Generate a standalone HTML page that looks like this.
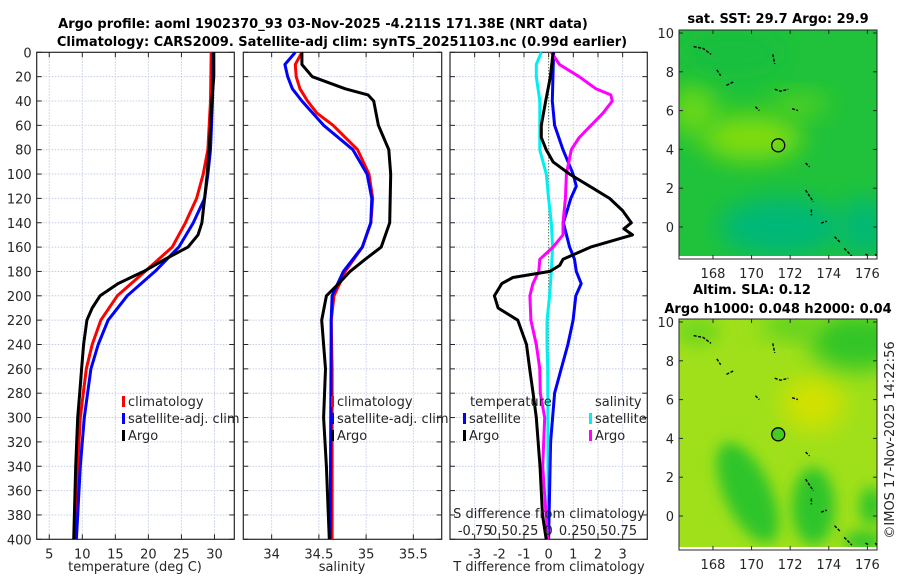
<!DOCTYPE html>
<html><head><meta charset="utf-8"><style>
html,body{margin:0;padding:0;background:#fff;width:900px;height:580px;overflow:hidden}
svg text{font-family:"DejaVu Sans","Liberation Sans",sans-serif;fill:#262626}
</style></head><body>
<svg id="fig" xmlns="http://www.w3.org/2000/svg" width="900" height="580" viewBox="0 0 900 580">
<defs>
<filter id="blur1" x="-50%" y="-50%" width="200%" height="200%"><feGaussianBlur stdDeviation="12"/></filter>
<filter id="blur2" x="-50%" y="-50%" width="200%" height="200%"><feGaussianBlur stdDeviation="7"/></filter>
<clipPath id="clipm1"><rect x="679" y="30" width="198" height="228"/></clipPath>
<clipPath id="clipm2"><rect x="679" y="319" width="198" height="230"/></clipPath>
</defs>
<text x="323" y="28" text-anchor="middle" font-size="13" font-weight="bold" style="fill:#000">Argo profile: aoml 1902370_93 03-Nov-2025 -4.211S 171.38E (NRT data)</text>
<text x="342" y="46" text-anchor="middle" font-size="13" font-weight="bold" style="fill:#000">Climatology: CARS2009. Satellite-adj clim: synTS_20251103.nc (0.99d earlier)</text>
<g id="plots"></g>
<g id="maps"></g>
<text transform="translate(894,440) rotate(-90)" text-anchor="middle" font-size="13">©IMOS 17-Nov-2025 14:22:56</text>
</svg>
<script>
// ---------------- DATA ----------------
const depthTicks = [0,20,40,60,80,100,120,140,160,180,200,220,240,260,280,300,320,340,360,380,400];
const tempTicks = [5,10,15,20,25,30];
const salTicks = [34,34.5,35,35.5];
const tdiffTicks = [-3,-2,-1,0,1,2,3];
const sdiffTicks = [-0.75,-0.5,-0.25,0,0.25,0.5,0.75];
const sdiffTickLabels = ["-0.75","0.5","0.25","0","0.25","0.5","0.75"];

// Temperature profiles
const tArgoDepth = [0,20,40,60,80,100,120,140,150,160,170,180,190,200,210,220,240,260,280,300,340,400];
const tArgoVal   = [29.9,29.9,29.6,29.4,29.2,28.9,28.5,28.1,27.5,26.0,22.5,19.3,15.4,12.7,11.5,10.7,10.2,9.9,9.6,9.3,9.0,8.7];
const tClimDepth = [0,40,80,100,120,140,160,180,200,220,240,260,300,340,400];
const tClimVal   = [29.5,29.4,29.0,28.3,27.3,25.6,23.6,19.5,15.3,12.8,11.5,10.6,9.7,9.3,8.9];
const tSatDepth  = [0,40,80,100,120,140,160,180,200,220,240,260,300,340,400];
const tSatVal    = [29.8,29.7,29.4,29.0,28.5,26.8,24.6,21.0,16.8,13.9,12.4,11.3,10.3,9.7,9.1];

// Salinity profiles
const sArgoDepth = [0,10,20,30,35,40,60,80,100,140,160,170,180,190,200,220,240,260,300,340,400];
const sArgoVal   = [34.32,34.32,34.43,34.78,35.02,35.08,35.13,35.24,35.26,35.25,35.16,34.99,34.83,34.71,34.58,34.53,34.55,34.57,34.55,34.58,34.61];
const sClimDepth = [0,10,20,30,40,50,60,80,100,120,140,160,180,200,220,260,400];
const sClimVal   = [34.32,34.25,34.26,34.30,34.38,34.48,34.65,34.91,35.03,35.07,35.05,34.96,34.78,34.66,34.63,34.64,34.64];
const sSatDepth  = [0,10,20,30,40,60,80,100,120,140,160,180,200,220,400];
const sSatVal    = [34.25,34.14,34.17,34.22,34.32,34.55,34.86,35.01,35.06,35.05,34.96,34.76,34.64,34.63,34.62];

// Differences (T in deg C, S in psu)
const dTArgoDepth = [0,20,40,60,70,80,90,100,110,120,130,140,145,150,160,170,175,180,185,190,200,210,220,240,260,280,300,340,380,400];
const dTArgoVal   = [0.18,0.07,-0.12,-0.3,-0.3,-0.1,0.18,0.85,1.66,2.47,3.0,3.35,3.05,3.4,1.7,0.58,0.45,0.05,-1.45,-1.9,-2.2,-2.05,-1.25,-0.9,-0.77,-0.63,-0.5,-0.35,-0.25,-0.1];
const dTSatDepth  = [0,40,60,80,100,110,120,140,160,170,180,190,200,220,240,260,280,300,320,400];
const dTSatVal    = [0.2,0.15,0.24,0.58,0.99,1.12,0.9,0.6,0.85,1.05,1.12,1.32,1.1,0.99,0.78,0.51,0.24,0.16,0.08,0.0];
const dSSatDepth  = [0,10,20,40,60,80,100,120,140,160,180,200,220,240,260,400];
const dSSatVal    = [-0.075,-0.125,-0.125,-0.09,-0.09,-0.09,-0.024,0.0,0.027,0.04,0.027,0.01,-0.017,-0.017,-0.01,-0.005];
const dSArgoDepth = [0,10,20,30,35,40,50,60,70,80,100,120,140,150,160,170,180,190,200,220,240,260,280,300,340,400];
const dSArgoVal   = [0.027,0.11,0.31,0.48,0.63,0.645,0.55,0.43,0.31,0.23,0.18,0.17,0.145,0.145,0.044,-0.09,-0.1,-0.16,-0.19,-0.18,-0.125,-0.09,-0.085,-0.04,-0.06,-0.01];

// Map values
const mapLonTicks = [168,170,172,174,176];
const mapLatTicks = [0,2,4,6,8,10];
const argoLon = 171.38, argoLat = 4.21;

// ---------------- HELPERS ----------------
const NS = "http://www.w3.org/2000/svg";
function el(tag, attrs, parent){const e=document.createElementNS(NS,tag);for(const k in attrs)e.setAttribute(k,attrs[k]);parent.appendChild(e);return e;}
const yOf = d => 52.3 + d*1.2175;
const panels = [
  {name:'temperature', x0:36.7, x1:234.3, min:3.1, max:33},
  {name:'salinity', x0:243.3, x1:441.7, min:33.7, max:35.8},
  {name:'difference', x0:450, x1:647.3, min:-4, max:4}
];
function xf(p){return v => p.x0 + (v-p.min)/(p.max-p.min)*(p.x1-p.x0);}
const plots = document.getElementById('plots');

function drawPanel(p, xticks, xlabels, showY){
  const g = el('g',{},plots);
  
  
  const X = xf(p), top=yOf(0), bot=yOf(400);
  xticks.forEach((t,i)=>{
    const gl = el('line',{x1:X(t),x2:X(t),y1:top,y2:bot,stroke:'#c4cce6','stroke-width':1,'stroke-dasharray':'1.5 1.5'},g);
    
    
    el('line',{x1:X(t),x2:X(t),y1:bot,y2:bot-5,stroke:'#262626'},g);
    el('line',{x1:X(t),x2:X(t),y1:top,y2:top+5,stroke:'#262626'},g);
    if(xlabels){
      const tx = el('text',{x:X(t),y:bot+19,'text-anchor':'middle','font-size':13},g);
      
      
      tx.textContent = xlabels[i];
    }
  });
  depthTicks.forEach(d=>{
    const y=yOf(d);
    if(d>0&&d<400){
      const gl = el('line',{x1:p.x0,x2:p.x1,y1:y,y2:y,stroke:'#c4cce6','stroke-width':1,'stroke-dasharray':'1.5 1.5'},g);
      
      
    }
    el('line',{x1:p.x0,x2:p.x0+5,y1:y,y2:y,stroke:'#262626'},g);
    el('line',{x1:p.x1,x2:p.x1-5,y1:y,y2:y,stroke:'#262626'},g);
    if(showY){
      const tx = el('text',{x:p.x0-5,y:y+5,'text-anchor':'end','font-size':13},g);
      
      
      tx.textContent = d;
    }
  });
  const fr = el('rect',{x:p.x0,y:top,width:p.x1-p.x0,height:bot-top,fill:'none',stroke:'#262626','stroke-width':1.2},g);
  
  
  return g;
}
function line(g, X, depths, vals, color, name, w){
  const pts = depths.map((d,i)=>X(vals[i]).toFixed(1)+','+yOf(d).toFixed(1)).join(' ');
  const pl = el('polyline',{points:pts,fill:'none',stroke:color,'stroke-width':w||3,'stroke-linejoin':'round'},g);
  
  
}
function legend(g, x, y, items){
  items.forEach((it,i)=>{
    const yy = y + i*17;
    const m = el('rect',{x:x,y:yy-10,width:3,height:11,fill:it.c},g);
    
    
    const t = el('text',{x:x+6,y:yy,'font-size':13},g);
    
    
    t.textContent = it.t;
  });
}

// Panel 1
const p1 = panels[0], X1 = xf(p1);
const g1 = drawPanel(p1, tempTicks, tempTicks.map(String), true);
line(g1,X1,tClimDepth,tClimVal,'#ff0000','temp-climatology-line');
line(g1,X1,tSatDepth,tSatVal,'#0000ff','temp-satellite-line');
line(g1,X1,tArgoDepth,tArgoVal,'#000000','temp-argo-line');
legend(g1,122,406,[{c:'#ff0000',t:'climatology'},{c:'#0000ff',t:'satellite-adj. clim'},{c:'#000',t:'Argo'}]);
const xl1 = el('text',{x:135,y:571,'text-anchor':'middle','font-size':13},g1);


xl1.textContent='temperature (deg C)';

// Panel 2
const p2 = panels[1], X2 = xf(p2);
const g2 = drawPanel(p2, salTicks, salTicks.map(String), false);
line(g2,X2,sClimDepth,sClimVal,'#ff0000','sal-climatology-line');
line(g2,X2,sSatDepth,sSatVal,'#0000ff','sal-satellite-line');
line(g2,X2,sArgoDepth,sArgoVal,'#000000','sal-argo-line');
legend(g2,331,406,[{c:'#ff0000',t:'climatology'},{c:'#0000ff',t:'satellite-adj. clim'},{c:'#000',t:'Argo'}]);
const xl2 = el('text',{x:342,y:571,'text-anchor':'middle','font-size':13},g2);


xl2.textContent='salinity';

// Panel 3
const p3 = panels[2], X3 = xf(p3);
const XS = v => X3(v*4);
const g3 = drawPanel(p3, tdiffTicks, tdiffTicks.map(String), false);
const zl = el('line',{x1:X3(0),x2:X3(0),y1:yOf(0),y2:yOf(400),stroke:'#3a5a2a','stroke-width':1,'stroke-dasharray':'1 2'},g3);


line(g3,XS,dSSatDepth,dSSatVal,'#00f0f0','sdiff-satellite-line');
line(g3,X3,dTSatDepth,dTSatVal,'#0000ff','tdiff-satellite-line');
line(g3,XS,dSArgoDepth,dSArgoVal,'#ff00ff','sdiff-argo-line');
line(g3,X3,dTArgoDepth,dTArgoVal,'#000000','tdiff-argo-line');
const lt = el('text',{x:470,y:406,'font-size':13},g3);


lt.textContent='temperature';
const ls = el('text',{x:595,y:406,'font-size':13},g3);


ls.textContent='salinity';
legend(g3,463,423,[{c:'#0000ff',t:'satellite'},{c:'#000',t:'Argo'}]);
legend(g3,589,423,[{c:'#00f0f0',t:'satellite'},{c:'#ff00ff',t:'Argo'}]);
const st = el('text',{x:549,y:518,'text-anchor':'middle','font-size':13},g3);


st.textContent='S difference from climatology';
sdiffTicks.forEach((t,i)=>{
  const tx = el('text',{x:XS(t),y:535,'text-anchor':'middle','font-size':13},g3);
  
  
  tx.textContent = sdiffTickLabels[i];
});
const xl3 = el('text',{x:549,y:571,'text-anchor':'middle','font-size':13},g3);


xl3.textContent='T difference from climatology';

// ---------------- MAPS ----------------
const maps = document.getElementById('maps');
const lonX = lon => 679 + (lon-166.24)*19.3;
const coast = [
  [[167.0,9.3],[167.5,9.2],[167.9,8.9]],[[168.2,8.1],[168.4,7.8]],[[168.7,7.3],[169.1,7.5]],
  [[170.2,6.2],[170.4,6.0]],[[171.2,7.1],[171.5,7.0],[171.9,7.1]],[[171.1,8.9],[171.2,8.4]],
  [[172.1,6.1],[172.4,6.0]],[[172.8,3.3],[173.0,3.1]],[[172.8,1.9],[173.0,1.6],[173.2,1.3]],
  [[173.1,0.9],[173.1,0.6]],[[173.6,0.2],[173.9,0.3]],[[174.3,-0.5],[174.6,-0.8]],
  [[174.8,-1.1],[175.2,-1.5]],[[175.9,-1.4],[176.1,-1.5]],[[176.4,-1.4],[176.5,-1.5]]
];
function drawMap(m){
  const latY = lat => m.y0 - lat*19.4;
  const g = el('g',{},maps);
  
  
  const inner = el('g',{'clip-path':'url(#'+m.clip+')'},g);
  el('rect',{x:679,y:m.top,width:198,height:m.h,fill:m.base},inner);
  m.blobs.forEach(b=>{
    const e = el('ellipse',{cx:lonX(b[0]),cy:latY(b[1]),rx:b[2]*19.3,ry:b[3]*19.4,fill:b[4],filter:'url(#blur'+(b[5]||1)+')',transform:'rotate('+(b[6]||0)+' '+lonX(b[0])+' '+latY(b[1])+')'},inner);
    
    
  });
  coast.forEach(c=>{
    const p = el('polyline',{points:c.map(q=>lonX(q[0])+','+latY(q[1])).join(' '),fill:'none',stroke:'#000','stroke-width':1.4,'stroke-dasharray':'3 1.5'},inner);
    
    
  });
  const c = el('circle',{cx:lonX(argoLon),cy:latY(argoLat),r:6.5,fill:m.circleFill,stroke:'#000','stroke-width':1.3},g);
  
  
  el('rect',{x:679,y:m.top+m.h-2,width:198,height:3,fill:'#fff'},g);
  const fr = el('rect',{x:679,y:m.top,width:198,height:m.h+1,fill:'none',stroke:'#262626','stroke-width':1},g);
  
  
  const bot = m.top+m.h+1;
  mapLonTicks.forEach(t=>{
    el('line',{x1:lonX(t),x2:lonX(t),y1:bot,y2:bot-4,stroke:'#262626'},g);
    el('line',{x1:lonX(t),x2:lonX(t),y1:m.top,y2:m.top+4,stroke:'#262626'},g);
    const tx = el('text',{x:lonX(t),y:bot+19,'text-anchor':'middle','font-size':13},g);
    
    
    tx.textContent=t;
  });
  mapLatTicks.forEach(t=>{
    el('line',{x1:679,x2:683,y1:latY(t),y2:latY(t),stroke:'#262626'},g);
    el('line',{x1:877,x2:873,y1:latY(t),y2:latY(t),stroke:'#262626'},g);
    const tx = el('text',{x:674,y:latY(t)+5,'text-anchor':'end','font-size':13},g);
    
    
    tx.textContent=t;
  });
}
drawMap({name:'sst-map',clip:'clipm1',top:30,h:228,y0:227,base:'#1fc23a',circleFill:'none',
  blobs:[[170,4.6,2.6,1.2,'#7fdc10',1],[167,6,1.2,1.3,'#6ad818',1],[172.5,6.3,1.5,0.6,'#55d21e',1],
         [171.5,0,3.2,1.5,'#00b877',1],[175.8,0,1.2,1.5,'#00b877',1],[169,9,2.5,1,'#14bd40',1]]});
drawMap({name:'sla-map',clip:'clipm2',top:319,h:230,y0:516,base:'#9fe01a',circleFill:'#44cc22',
  blobs:[[173.2,5.8,1.6,1.4,'#d2e100',1],[175.5,9,2.5,1.5,'#30c526',1],[172,9.8,1.5,0.6,'#4fcf20',1],
         [169.8,1.2,1.2,2.8,'#2ec52a',2,-25],[173.2,0.5,1.1,2.0,'#2ec52a',2],[176.2,0.5,0.6,1.0,'#33c52a',2],
         [175.8,-1.3,1,0.5,'#2ec52a',2],[167.2,9.5,1.2,0.8,'#77d81c',2]]});
const mt1 = el('text',{x:778,y:23,'text-anchor':'middle','font-size':13,'font-weight':'bold'},maps);


mt1.textContent='sat. SST: 29.7 Argo: 29.9';
mt1.style.fill='#000';
const mt2 = el('text',{x:752,y:294,'text-anchor':'middle','font-size':13,'font-weight':'bold'},maps);


mt2.textContent='Altim. SLA: 0.12';
mt2.style.fill='#000';
const mt3 = el('text',{x:778,y:313,'text-anchor':'middle','font-size':13,'font-weight':'bold'},maps);


mt3.textContent='Argo h1000: 0.048 h2000: 0.04';
mt3.style.fill='#000';
</script>
</body></html>
